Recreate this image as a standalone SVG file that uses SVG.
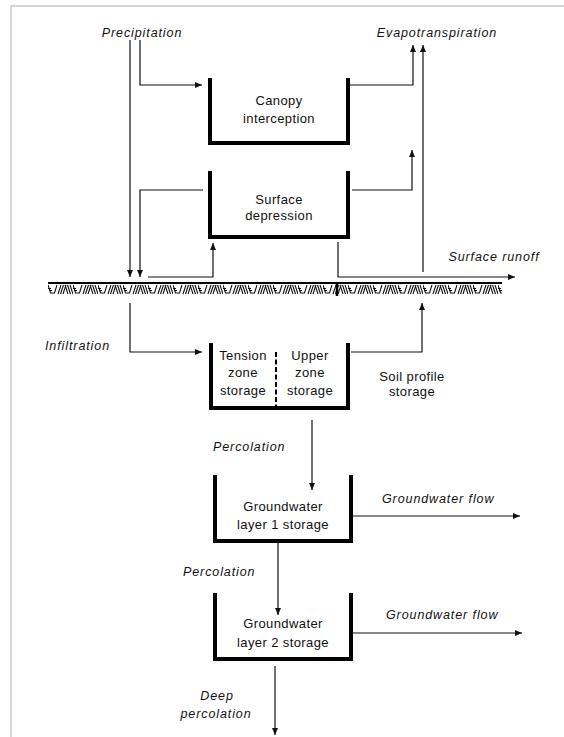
<svg xmlns="http://www.w3.org/2000/svg" width="564" height="737" viewBox="0 0 564 737">
<defs>
<style>
.bg{fill:#fff}
.frame{fill:none;stroke:#c8c8c8;stroke-width:1.5}
.wall{fill:none;stroke:#000;stroke-width:4;stroke-linejoin:miter;stroke-linecap:square}
.ln{fill:none;stroke:#111;stroke-width:1.2}
.lab{font-family:"Liberation Sans",Arial,sans-serif;font-size:12.5px;font-style:italic;letter-spacing:0.9px;fill:#111}
.txt{font-family:"Liberation Sans",Arial,sans-serif;font-size:13px;letter-spacing:0.4px;fill:#111;text-anchor:middle}
</style>
<marker id="ah" markerUnits="userSpaceOnUse" markerWidth="8" markerHeight="7" refX="7" refY="3" orient="auto">
<path d="M0,0 L7,3 L0,6 z" fill="#111"/>
</marker>
<pattern id="soil" patternUnits="userSpaceOnUse" x="48" y="284" width="25" height="11">
<g fill="none" stroke="#111" stroke-width="1.1">
<path d="M0,1 L2.5,9 L6.5,9 L9,1"/>
<path d="M10,10 L13,1 M12.5,10 L15.5,1 M15,10 L18,1"/>
<path d="M17,1 L20,10 M19.5,1 L22.5,10 M22,1 L25,10"/>
<path d="M0,4.5 L3,4.5 M1,6.5 L4,6.5"/>
</g>
</pattern>
</defs>
<rect class="bg" x="0" y="0" width="564" height="737"/>
<path class="frame" d="M11,737 L11,6 L564,6"/>

<g id="ground">
<rect x="48" y="284" width="454" height="11" fill="url(#soil)"/>
<line x1="48" y1="283" x2="502" y2="283" stroke="#000" stroke-width="2.2"/>
<line x1="337" y1="283" x2="337" y2="296" stroke="#000" stroke-width="2.5"/>
</g>

<g id="canopy">
<path class="wall" d="M210,80 L210,143 L348,143 L348,80"/>
<text class="txt" x="279" y="104.5">Canopy</text>
<text class="txt" x="279" y="122.5">interception</text>
</g>

<g id="surface-depression">
<path class="wall" d="M210,173 L210,237 L348,237 L348,173"/>
<text class="txt" x="279" y="204">Surface</text>
<text class="txt" x="279" y="220">depression</text>
</g>

<g id="soil-storage">
<path class="wall" d="M211,345 L211,408 L348,408 L348,345"/>
<line x1="276" y1="352" x2="276" y2="412" stroke="#000" stroke-width="2" stroke-dasharray="5,2.5"/>
<text class="txt" x="243" y="360">Tension</text>
<text class="txt" x="243" y="377">zone</text>
<text class="txt" x="243" y="395">storage</text>
<text class="txt" x="310" y="360">Upper</text>
<text class="txt" x="310" y="377">zone</text>
<text class="txt" x="310" y="395">storage</text>
</g>

<g id="groundwater-1">
<path class="wall" d="M215,477 L215,541 L351,541 L351,477"/>
<text class="txt" x="283" y="511">Groundwater</text>
<text class="txt" x="283" y="529">layer 1 storage</text>
</g>

<g id="groundwater-2">
<path class="wall" d="M215,595 L215,659 L351,659 L351,595"/>
<text class="txt" x="283" y="628">Groundwater</text>
<text class="txt" x="283" y="647">layer 2 storage</text>
</g>

<g id="labels">
<text class="lab" x="142" y="37" text-anchor="middle">Precipitation</text>
<text class="lab" x="437" y="37" text-anchor="middle">Evapotranspiration</text>
<text class="lab" x="494" y="261" text-anchor="middle">Surface runoff</text>
<text class="lab" x="45" y="350">Infiltration</text>
<text class="txt" x="412" y="381">Soil profile</text>
<text class="txt" x="412" y="396">storage</text>
<text class="lab" x="213" y="451">Percolation</text>
<text class="lab" x="382" y="503">Groundwater flow</text>
<text class="lab" x="183" y="576">Percolation</text>
<text class="lab" x="386" y="619">Groundwater flow</text>
<text class="lab" x="217" y="700" text-anchor="middle">Deep</text>
<text class="lab" x="216" y="718" text-anchor="middle">percolation</text>
</g>

<g id="connectors">
<path class="ln" d="M130,40 L130,277" marker-end="url(#ah)"/>
<path class="ln" d="M140,40 L140,85 L202,85" marker-end="url(#ah)"/>
<path class="ln" d="M350,85 L413,85 L413,45" marker-end="url(#ah)"/>
<path class="ln" d="M423,272 L423,45" marker-end="url(#ah)"/>
<path class="ln" d="M352,190 L412,190 L412,150" marker-end="url(#ah)"/>
<path class="ln" d="M203,190 L140,190 L140,277" marker-end="url(#ah)"/>
<path class="ln" d="M148,277 L213,277 L213,243" marker-end="url(#ah)"/>
<path class="ln" d="M338,242 L338,277 L515,277" marker-end="url(#ah)"/>
<path class="ln" d="M130,303 L130,352 L202,352" marker-end="url(#ah)"/>
<path class="ln" d="M351,352 L422,352 L422,303" marker-end="url(#ah)"/>
<path class="ln" d="M312,420 L312,490" marker-end="url(#ah)"/>
<path class="ln" d="M353,516 L520,516" marker-end="url(#ah)"/>
<path class="ln" d="M278,541 L278,615" marker-end="url(#ah)"/>
<path class="ln" d="M353,633 L522,633" marker-end="url(#ah)"/>
<path class="ln" d="M275,666 L275,735" marker-end="url(#ah)"/>
</g>
</svg>
